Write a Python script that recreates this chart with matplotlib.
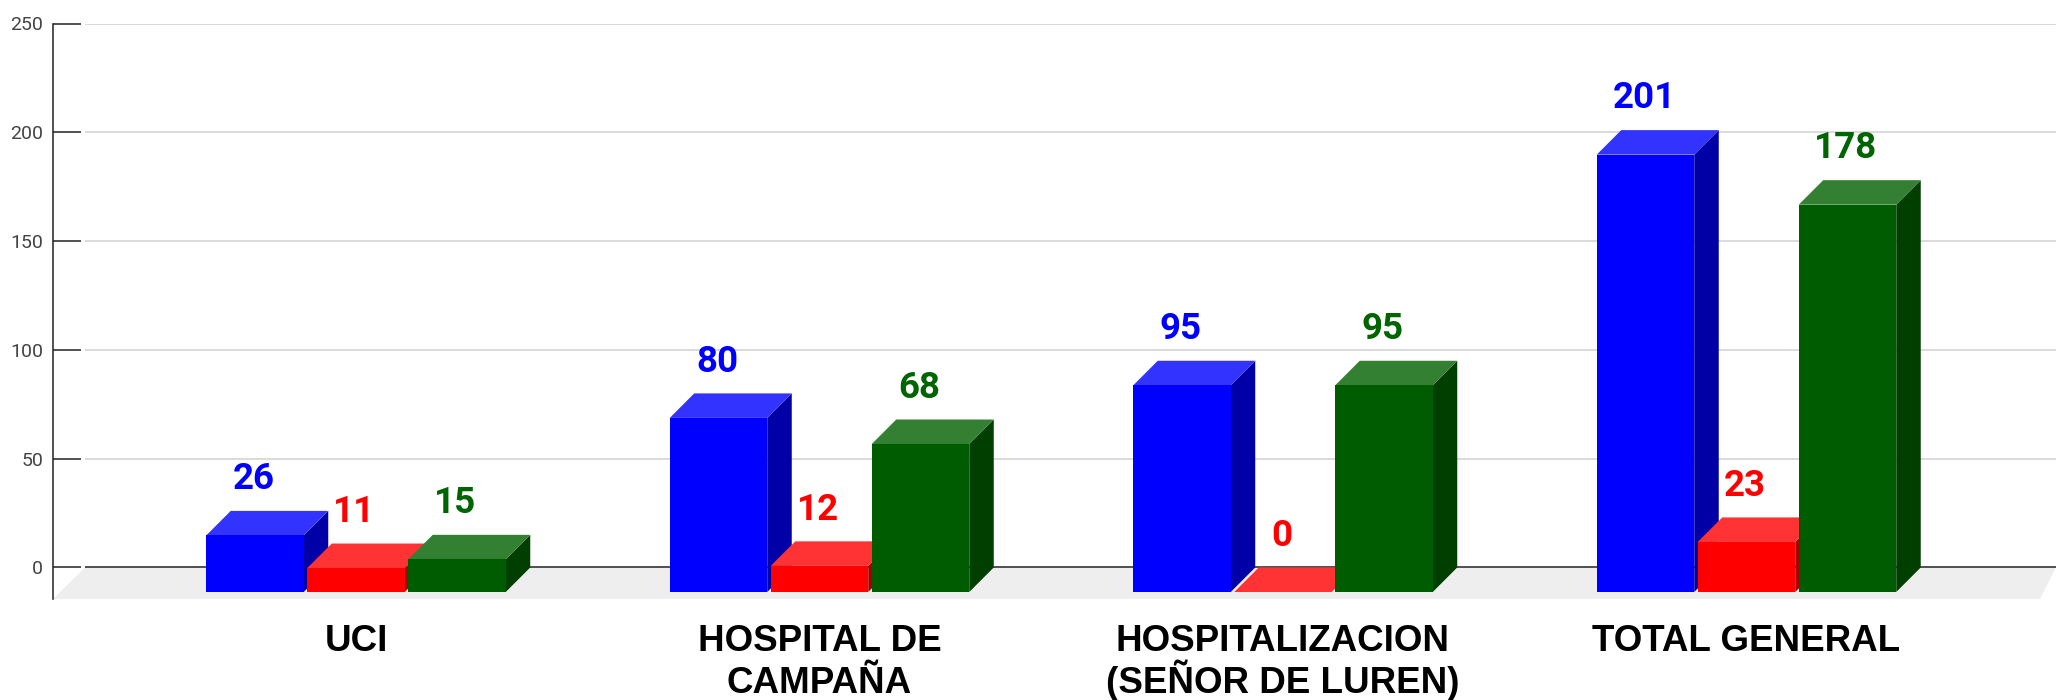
import numpy as np
import matplotlib
matplotlib.use('Agg')
import matplotlib.pyplot as plt
from matplotlib.patches import Polygon

categories = ['UCI', 'HOSPITAL DE\nCAMPAÑA', 'HOSPITALIZACION\n(SEÑOR DE LUREN)', 'TOTAL GENERAL']
blue_values = [26, 80, 95, 201]
red_values = [11, 12, 0, 23]
green_values = [15, 68, 95, 178]
y_ticks = [0, 50, 100, 150, 200, 250]

series = [
    (blue_values, '#0000ff', '#3333ff', '#0000a6', '#0000ff'),
    (red_values, '#ff0000', '#ff3333', '#a60000', '#ff0000'),
    (green_values, '#005c00', '#338033', '#003f00', '#006400'),
]

W, H = 2056, 700
fig = plt.figure(figsize=(W / 100, H / 100), dpi=100)
# axes box: left spine at 53px, 250 at 23.5px, floor front at 599px
ax = fig.add_axes([53 / W, 1 - 599 / H, 1 - 53 / W, (599 - 23.5) / H])

px_x = 463.5  # px per category
px_y = 2.174  # px per value
ax.set_xlim((53 - 356) / px_x, (2056 - 356) / px_x)
ax.set_ylim(-31.5 / px_y, 250)

bar_w = 97.5 / px_x
step = 101 / px_x
dx = 24.5 / px_x
dy = 24.5 / px_y

x_left = ax.get_xlim()[0]
x_right = ax.get_xlim()[1]
x_back = x_left + 32 / px_x

# floor
ax.add_patch(Polygon([(x_left, ax.get_ylim()[0]), (x_right - 16 / px_x, ax.get_ylim()[0]),
                      (x_right, 0), (x_back, 0)], fc='#eeeeee', ec='none', zorder=1))

# grid and zero line
ax.hlines([t for t in y_ticks if t != 0], x_back, x_right, color='#d4d4d4', lw=1.2, zorder=1)
ax.hlines(0, x_back, x_right, color='#333333', lw=1.2, zorder=1)

z = 2
for i in range(len(categories)):
    for j, (vals, front, top, side, txt) in enumerate(series):
        v = vals[i]
        x0 = i + (j - 1) * step - bar_w / 2
        x1 = x0 + bar_w
        y0 = -dy
        y1 = v - dy
        # side, top, front
        ax.add_patch(Polygon([(x1, y0), (x1 + dx, 0), (x1 + dx, v), (x1, y1)], fc=side, ec='none', zorder=z))
        ax.add_patch(Polygon([(x0, y1), (x0 + dx, v), (x1 + dx, v), (x1, y1)], fc=top, ec='none', zorder=z))
        ax.bar(x0, y1 - y0, width=bar_w, bottom=y0, align='edge', color=front, lw=0, zorder=z)
        ax.text((x0 + x1) / 2 - 1.5 / px_x, v + 10, str(v), color=txt, ha='center', va='baseline',
                fontsize=26.5, fontweight='bold', family='Roboto', zorder=10)
        z += 1

ax.set_yticks(y_ticks)
ax.tick_params(axis='y', direction='in', length=20, width=1.1, color='#222222', pad=7,
               labelsize=14, labelcolor='#444444')
for lab in ax.get_yticklabels():
    lab.set_family('Roboto')

# category labels, one baseline per line so the parens do not push the line down
ax.set_xticks([])
for i, cat in enumerate(categories):
    for k, line in enumerate(cat.split('\n')):
        ax.annotate(line, xy=(i, 0), xycoords=ax.get_xaxis_transform(),
                    xytext=(0, -37.2 - k * 30.2), textcoords='offset points',
                    ha='center', va='baseline', fontsize=26.5, fontweight='bold',
                    family='Liberation Sans', color='black', annotation_clip=False)

for s in ['top', 'right', 'bottom']:
    ax.spines[s].set_visible(False)
ax.spines['left'].set_color('#222222')
ax.spines['left'].set_linewidth(1.1)
ax.patch.set_alpha(0)

fig.savefig('out.png', dpi=100, facecolor='white')
